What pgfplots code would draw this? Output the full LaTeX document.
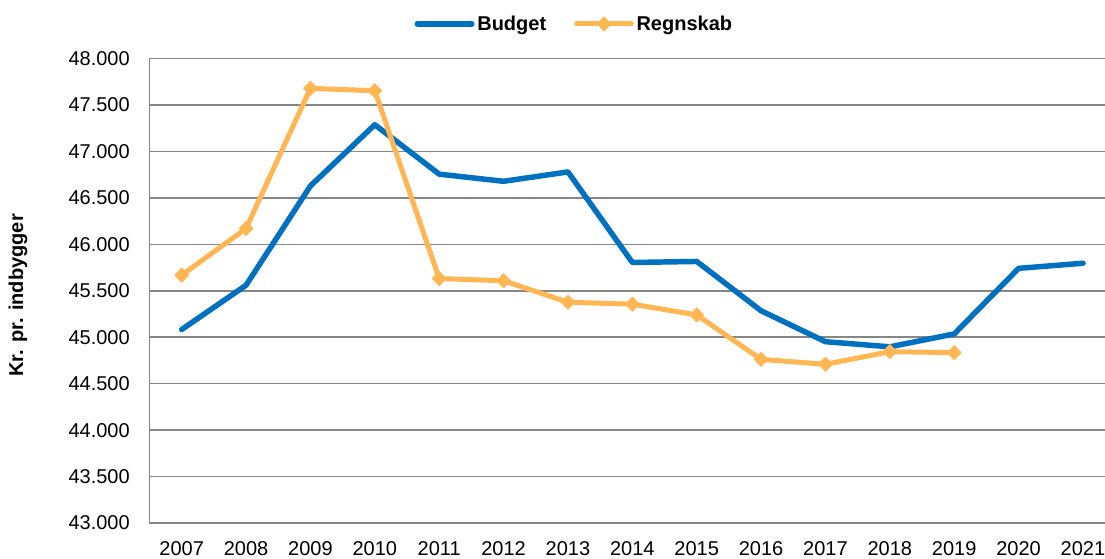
\documentclass[border=0pt]{standalone}
\usepackage{pgfplots}
\pgfplotsset{compat=1.18}
\usepackage{fontspec}
\setmainfont{Liberation Sans}
\definecolor{bluec}{RGB}{0,112,192}
\definecolor{orangec}{RGB}{255,182,83}
\definecolor{gridc}{RGB}{134,134,134}
\begin{document}
\begin{tikzpicture}
\useasboundingbox (0,0) rectangle (828.75pt,418.5pt);
\begin{axis}[
  at={(112.1pt,26.25pt)}, anchor=south west,
  scale only axis, width=716.6pt, height=348.3pt,
  xmin=2006.5, xmax=2021.34, ymin=43000, ymax=48000,
  xtick={2007,...,2021},
  xticklabels={2007,2008,2009,2010,2011,2012,2013,2014,2015,2016,2017,2018,2019,2020,2021},
  ytick={43000,43500,...,48000},
  scaled y ticks=false,
  /pgf/number format/fixed, /pgf/number format/precision=0,
  /pgf/number format/1000 sep={.}, /pgf/number format/assume math mode=true,
  yticklabel style={anchor=east, inner sep=0pt, xshift=-14.6pt, font=\fontsize{15}{18}\selectfont},
  xticklabel style={anchor=north, inner sep=0pt, yshift=-14pt, font=\fontsize{15}{18}\selectfont},
  major tick length=0pt,
  axis lines*=left,
  axis line style={draw=gridc, line width=1.2pt},
  ymajorgrids, grid style={draw=gridc, line width=1.2pt},
  ylabel={Kr. pr. indbygger},
  every axis y label/.style={at={(axis description cs:-0.1376,0.49)}, rotate=90, anchor=center,
    font=\fontsize{15}{18}\selectfont\bfseries},
  legend style={at={(axis description cs:0.445,1)}, anchor=center, yshift=26pt,
    draw=none, fill=none, inner sep=0pt, legend columns=-1,
    font=\fontsize{15}{18}\selectfont\bfseries,
    /tikz/every even column/.append style={column sep=19pt}},
  legend image code/.code={\draw[mark repeat=2,mark phase=2,#1] plot coordinates {(0pt,0pt) (20.5pt,0pt) (41pt,0pt)};},
]
\addplot[color=bluec, line width=4.1pt, line cap=round, line join=round, mark=none] coordinates {
(2007,45083) (2008,45560) (2009,46629) (2010,47288) (2011,46756) (2012,46679) (2013,46780)
(2014,45805) (2015,45816) (2016,45285) (2017,44952) (2018,44897) (2019,45036) (2020,45742) (2021,45797)};
\addlegendentry{Budget}
\addplot[color=orangec, line width=3.75pt, line cap=round, line join=round, mark=diamond*,
  mark size=5.2pt, mark options={solid, fill=orangec, draw=orangec, line width=0.8pt, xscale=1.3}] coordinates {
(2007,45668) (2008,46171) (2009,47680) (2010,47654) (2011,45632) (2012,45608) (2013,45377)
(2014,45356) (2015,45240) (2016,44762) (2017,44709) (2018,44845) (2019,44834)};
\addlegendentry{Regnskab}
\end{axis}
\end{tikzpicture}
\end{document}
